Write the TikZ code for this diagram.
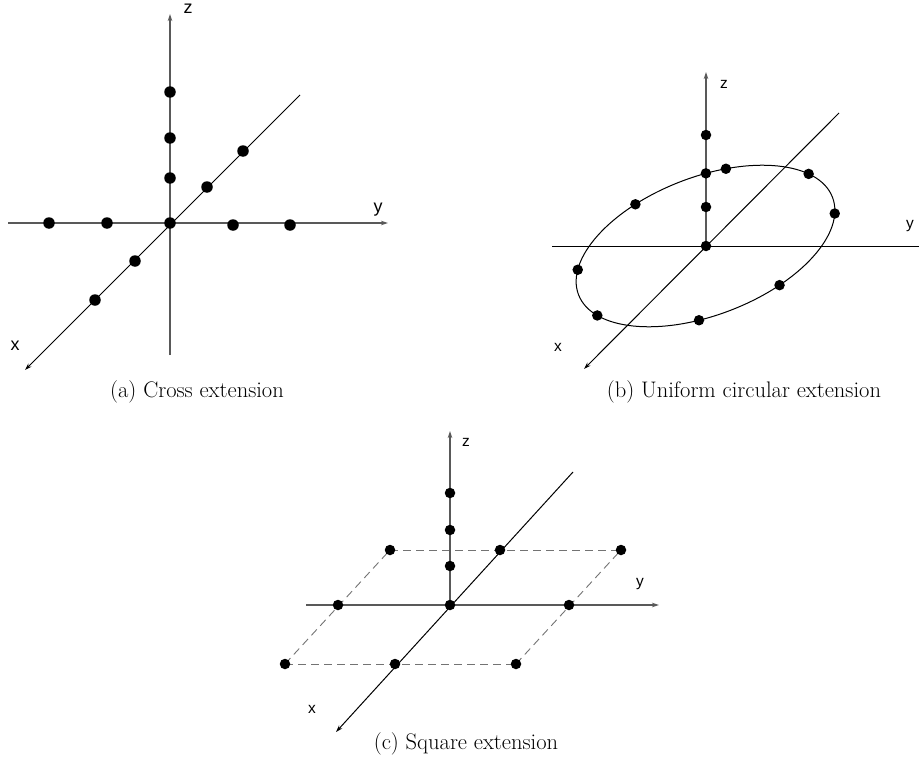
\documentclass[tikz,border=0pt]{standalone}
\usepackage{fontspec}
\newfontfamily\lblfont{Liberation Sans}
\usetikzlibrary{arrows.meta,backgrounds}
\begin{document}
\begin{tikzpicture}[x=1bp,y=-1bp,
  dotA/.style={circle,fill=black,inner sep=0pt,minimum size=11.5bp},
  dotB/.style={circle,fill=black,inner sep=0pt,minimum size=10.5bp},
  kaxis/.style={line width=1bp,draw=black},
  gaxis/.style={line width=1.3bp,draw=black!65},
  arr/.style={-{Stealth[length=7bp,width=4.5bp]}},
  sqedge/.style={line width=0.9bp,draw=black!55,dash pattern=on 8bp off 5bp},
  lblA/.style={font=\lblfont\fontsize{18}{20}\selectfont,inner sep=0pt},
  lblB/.style={font=\lblfont\fontsize{15.5}{18}\selectfont,inner sep=0pt},
  captext/.style={font=\fontsize{22.6}{26}\selectfont,inner sep=0pt,anchor=base}]
\useasboundingbox (0,0) rectangle (919,767);

% ---------------- (a) Cross extension ----------------
\coordinate (aZt) at (170,14);
\coordinate (aZb) at (170,355);
\coordinate (aYl) at (8,223);
\coordinate (aYr) at (388,223);
\coordinate (aXt) at (300,95);
\coordinate (aXb) at (25,370);
\node[dotA] (aO) at (170,223) {};
\node[dotA] (az1) at (170,178) {};
\node[dotA] (az2) at (170,138) {};
\node[dotA] (az3) at (170,92) {};
\node[dotA] (ay1) at (49,223) {};
\node[dotA] (ay2) at (107,223) {};
\node[dotA] (ay3) at (233,225) {};
\node[dotA] (ay4) at (290,225) {};
\node[dotA] (ax1) at (207,187) {};
\node[dotA] (ax2) at (243,151) {};
\node[dotA] (ax3) at (135,261) {};
\node[dotA] (ax4) at (95,300) {};
\begin{pgfonlayer}{background}
  \draw[gaxis,arr] (aZb) -- (aZt);
  \draw[gaxis,arr] (aYl) -- (aYr);
  \draw[kaxis,arr] (aXt) -- (aXb);
\end{pgfonlayer}
\node[lblA] (aZl) at (188,9) {z};
\node[lblA] (aYlab) at (378,210) {y};
\node[lblA] (aXlab) at (15,346) {x};
\node[captext] (capA) at (197,397) {(a) Cross extension};

% ---------------- (b) Uniform circular extension ----------------
\coordinate (bZt) at (706,72);
\coordinate (bYl) at (552,246);
\coordinate (bYr) at (919,246);
\coordinate (bXt) at (839,113);
\coordinate (bXb) at (584,369);
\node[dotB] (bO) at (706,246) {};
\node[dotB] (bz1) at (706,207) {};
\node[dotB] (bz2) at (706,135) {};
\begin{scope}[shift={(705.5,246)},rotate=21]
  \coordinate (bC) at (0,0);
  \node[dotB] (be1) at (78.8:136bp and 69bp) {};
  \node[dotB] (be2) at (69.9:136bp and 69bp) {};
  \node[dotB] (be3) at (26.1:136bp and 69bp) {};
  \node[dotB] (be4) at (-13.4:136bp and 69bp) {};
  \node[dotB] (be5) at (-66.1:136bp and 69bp) {};
  \node[dotB] (be6) at (-103.9:136bp and 69bp) {};
  \node[dotB] (be7) at (-157.8:136bp and 69bp) {};
  \node[dotB] (be8) at (160:136bp and 69bp) {};
  \node[dotB] (be9) at (111.8:136bp and 69bp) {};
  \begin{pgfonlayer}{background}
    \draw[line width=1bp] (bC) ellipse [x radius=136bp, y radius=69bp];
  \end{pgfonlayer}
\end{scope}
\begin{pgfonlayer}{background}
  \draw[gaxis,arr] (bO.center) -- (bZt);
  \draw[kaxis] (bYl) -- (bYr);
  \draw[kaxis,arr] (bXt) -- (bXb);
\end{pgfonlayer}
\node[lblB] (bZl) at (724,84) {z};
\node[lblB] (bYlab) at (910,226) {y};
\node[lblB] (bXlab) at (558,347) {x};
\node[captext] (capB) at (744,397) {(b) Uniform circular extension};

% ---------------- (c) Square extension ----------------
\coordinate (cZt) at (450,431);
\coordinate (cYl) at (306,605);
\coordinate (cYr) at (659,605);
\coordinate (cXt) at (573,472);
\coordinate (cXb) at (336,732);
\node[dotB] (cO) at (450,605) {};
\node[dotB] (cz1) at (450,566) {};
\node[dotB] (cz2) at (450,530) {};
\node[dotB] (cz3) at (450,493) {};
\node[dotB] (cbl) at (390,550) {};
\node[dotB] (cbm) at (500,550) {};
\node[dotB] (cbr) at (621,550) {};
\node[dotB] (cml) at (338,605) {};
\node[dotB] (cmr) at (569,605) {};
\node[dotB] (cfl) at (285,664) {};
\node[dotB] (cfm) at (395,664) {};
\node[dotB] (cfr) at (516,664) {};
\begin{pgfonlayer}{background}
  \draw[sqedge] (cbl.center) -- (cbr.center);
  \draw[sqedge] (cfl.center) -- (cfr.center);
  \draw[sqedge] (cfl.center) -- (cbl.center);
  \draw[sqedge] (cfr.center) -- (cbr.center);
  \draw[gaxis,arr] (cO.center) -- (cZt);
  \draw[gaxis,arr] (cYl) -- (cYr);
  \draw[kaxis,arr] (cXt) -- (cXb);
\end{pgfonlayer}
\node[lblB] (cZl) at (466,442) {z};
\node[lblB] (cYlab) at (640,584) {y};
\node[lblB] (cXlab) at (312,709) {x};
\node[captext] (capC) at (466,749) {(c) Square extension};
\end{tikzpicture}
\end{document}
